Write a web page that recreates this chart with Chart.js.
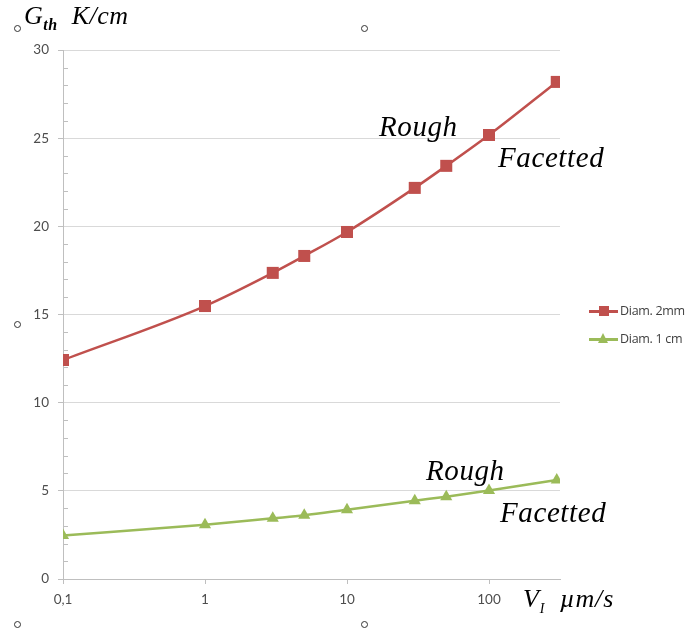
<!DOCTYPE html>
<html>
<head>
<meta charset="utf-8">
<script src="https://cdn.jsdelivr.net/npm/chart.js@4"></script>
<style>
  body { margin: 0; background: #fff; }
  #wrap { position: relative; width: 692px; height: 632px; }
  canvas { position: absolute; left: 0; top: 0; }
  .serif { position: absolute; font-family: "Liberation Serif", "DejaVu Serif", serif; font-style: italic; color: #000; white-space: nowrap; line-height: 1; }
  .note { font-size: 29px; letter-spacing: 0.6px; }
  .handle { position: absolute; width: 5px; height: 5px; border: 1px solid #333; border-radius: 50%; background: #fff; }
  .legend { position: absolute; left: 589px; font-family: "Open Sans", "Liberation Sans", sans-serif; font-size: 12.5px; color: #404040; white-space: nowrap; letter-spacing: -0.3px; }
  .legend .ln { display: inline-block; position: relative; width: 29px; height: 3px; vertical-align: middle; margin-right: 2px; }
  .legend .mk { position: absolute; left: 10px; top: -4px; width: 10px; height: 10px; }
</style>
</head>
<body>
<div id="wrap">
  <canvas id="chart" width="692" height="632"></canvas>

  <div class="serif" style="left:24px; top:3px; font-size:26px; letter-spacing:0.5px;">G<sub style="font-size:16px; font-weight:bold; vertical-align:-6px;">th</sub>&nbsp; K/cm</div>
  <div class="serif" style="left:523px; top:586px; font-size:26px; letter-spacing:0.8px;">V<sub style="font-size:14px; vertical-align:-6px;">I</sub>&nbsp; µm/s</div>

  <div class="serif note" style="left:379px; top:112px;">Rough</div>
  <div class="serif note" style="left:498px; top:143px;">Facetted</div>
  <div class="serif note" style="left:426px; top:456px;">Rough</div>
  <div class="serif note" style="left:500px; top:498px;">Facetted</div>

  <div class="handle" style="left:14px; top:25px;"></div>
  <div class="handle" style="left:361px; top:25px;"></div>
  <div class="handle" style="left:14px; top:321px;"></div>
  <div class="handle" style="left:14px; top:621px;"></div>
  <div class="handle" style="left:361px; top:621px;"></div>

  <div class="legend" style="top:302px;">
    <span class="ln" style="background:#c0504d;"><span class="mk" style="background:#c0504d;"></span></span>Diam. 2mm
  </div>
  <div class="legend" style="top:330px;">
    <span class="ln" style="background:#9bbb59;"><span class="mk" style="width:0;height:0;top:-5px;left:9px;border-left:5.5px solid transparent;border-right:5.5px solid transparent;border-bottom:10px solid #9bbb59;"></span></span>Diam. 1 cm
  </div>
</div>

<script>
const VELOCITIES = [0.1, 1, 3, 5, 10, 30, 50, 100, 300];
const GTH_2MM = [12.42, 15.48, 17.36, 18.32, 19.68, 22.18, 23.43, 25.18, 28.19];
const GTH_1CM = [2.46, 3.08, 3.44, 3.61, 3.93, 4.44, 4.67, 5.02, 5.61];
const X_TICKS = [0.1, 1, 10, 100];
const Y_MIN = 0;
const Y_MAX = 30;

const RED = "#c0504d";
const GREEN = "#9bbb59";
const AXIS_GREY = "#bfbfbf";
const GRID_GREY = "#d9d9d9";
const LABEL_GREY = "#4d4d4d";
const TICK_FONT = { family: "Lato, 'Liberation Sans', sans-serif", size: 13.5 };

// small inward ticks at every unit on the value axis, like Excel minor ticks
const minorTicks = {
  id: "minorTicks",
  beforeDatasetsDraw(chart) {
    const y = chart.scales.y;
    const ctx = chart.ctx;
    ctx.save();
    ctx.strokeStyle = AXIS_GREY;
    ctx.lineWidth = 1;
    for (let v = Y_MIN; v <= Y_MAX; v++) {
      if (v % 5 === 0) continue;
      const py = Math.round(y.getPixelForValue(v)) + 0.5;
      ctx.beginPath();
      ctx.moveTo(y.right, py);
      ctx.lineTo(y.right + 5, py);
      ctx.stroke();
    }
    ctx.restore();
  },
};

function toPoints(values) {
  return VELOCITIES.map((v, i) => ({ x: v, y: values[i] }));
}

new Chart(document.getElementById("chart"), {
  type: "line",
  data: {
    datasets: [
      {
        label: "Diam. 2mm",
        data: toPoints(GTH_2MM),
        borderColor: RED,
        backgroundColor: RED,
        borderWidth: 2.5,
        pointStyle: "rect",
        pointRadius: 8.5,
        pointBorderWidth: 0,
        cubicInterpolationMode: "monotone",
      },
      {
        label: "Diam. 1 cm",
        data: toPoints(GTH_1CM),
        borderColor: GREEN,
        backgroundColor: GREEN,
        borderWidth: 2.5,
        pointStyle: "triangle",
        pointRadius: 7,
        pointBorderWidth: 0,
        cubicInterpolationMode: "monotone",
      },
    ],
  },
  options: {
    responsive: false,
    animation: false,
    layout: { padding: { top: 50, right: 132, bottom: 0, left: 0 } },
    plugins: { legend: { display: false }, tooltip: { enabled: false } },
    scales: {
      x: {
        type: "logarithmic",
        min: 0.1,
        max: 316.2,
        afterBuildTicks(scale) {
          scale.ticks = X_TICKS.map((v) => ({ value: v }));
        },
        afterFit(scale) {
          scale.height = 53;
        },
        grid: { drawOnChartArea: false, drawTicks: true, tickLength: 5, tickColor: AXIS_GREY },
        border: { color: AXIS_GREY, width: 1 },
        ticks: {
          autoSkip: false,
          maxRotation: 0,
          padding: 8,
          color: LABEL_GREY,
          font: TICK_FONT,
          callback: (v) => String(v).replace(".", ","),
        },
      },
      y: {
        min: Y_MIN,
        max: Y_MAX,
        afterFit(scale) {
          scale.width = 63;
        },
        grid: { color: GRID_GREY, lineWidth: 1, drawTicks: true, tickLength: 5, tickColor: AXIS_GREY },
        border: { color: AXIS_GREY, width: 1 },
        ticks: {
          stepSize: 5,
          padding: 9,
          color: LABEL_GREY,
          font: TICK_FONT,
        },
      },
    },
  },
  plugins: [minorTicks],
});
</script>
</body>
</html>
